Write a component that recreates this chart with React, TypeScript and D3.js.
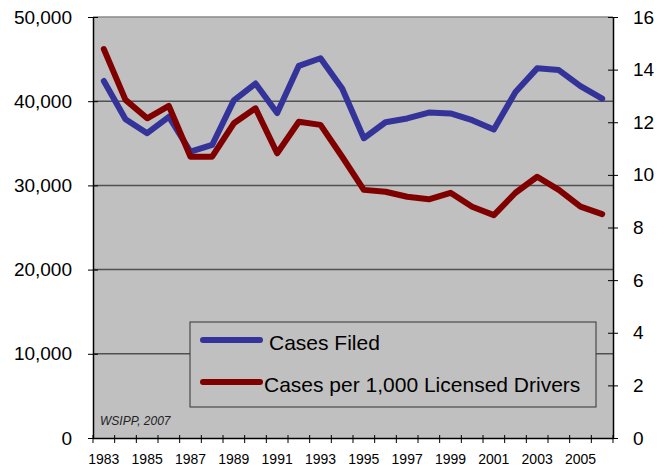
import React, { useEffect, useRef } from 'react';
import * as d3 from 'd3';

const years = d3.range(1983, 2007).map(String);
const casesFiled = [42400, 37850, 36200, 38150, 34000, 34800, 40100, 42100, 38600, 44200, 45100, 41500,
  35600, 37500, 37950, 38650, 38550, 37750, 36650, 41100, 43900, 43700, 41800, 40300];
const casesPerDriver = [14.78, 12.85, 12.15, 12.62, 10.69, 10.69, 11.96, 12.53, 10.82, 12.02, 11.9, 10.69,
  9.43, 9.36, 9.17, 9.07, 9.32, 8.79, 8.47, 9.32, 9.93, 9.43, 8.79, 8.51];
const leftTicks = [0, 10000, 20000, 30000, 40000, 50000];
const rightTicks = [0, 2, 4, 6, 8, 10, 12, 14, 16];
const legendItems = ['Cases Filed', 'Cases per 1,000 Licensed Drivers'];
const colors = ['#333399', '#800000'];

function drawChart(node: SVGSVGElement) {
  const W = 667, H = 468;
  const margin = { top: 17, right: 54, bottom: 30, left: 93 };
  const svg = d3.select(node).attr('width', W).attr('height', H);
  svg.selectAll('*').remove();
  const font = 'Arial, "Liberation Sans", sans-serif';

  const x = d3.scaleBand().domain(years).range([margin.left, W - margin.right]);
  const yL = d3.scaleLinear().domain([0, 50000]).range([H - margin.bottom, margin.top]);
  const yR = d3.scaleLinear().domain([0, 16]).range([H - margin.bottom, margin.top]);
  const x0 = margin.left, x1 = W - margin.right;

  svg.append('rect').attr('x', x0).attr('y', margin.top).attr('width', x1 - x0)
    .attr('height', yL(0) - margin.top).attr('fill', '#c0c0c0');

  // gridlines
  svg.append('g').selectAll('line').data(leftTicks.slice(1)).enter().append('line')
    .attr('x1', x0).attr('x2', x1).attr('y1', d => yL(d)).attr('y2', d => yL(d))
    .attr('stroke', d => (d === 50000 ? '#8a8a8a' : '#505050')).attr('stroke-width', 1.5);

  // left axis
  const gl = svg.append('g').attr('transform', `translate(${x0},0)`)
    .call(d3.axisLeft(yL).tickValues(leftTicks).tickFormat(d3.format(',')).tickSizeInner(5).tickSizeOuter(0).tickPadding(16));
  gl.select('.domain').attr('stroke', '#000').attr('stroke-width', 1.5);
  gl.selectAll('.tick line').attr('x2', 5).attr('x1', -5);
  gl.selectAll('text').attr('font-size', 19).attr('font-family', font).attr('fill', '#000');

  // right axis
  const gr = svg.append('g').attr('transform', `translate(${x1},0)`)
    .call(d3.axisRight(yR).tickValues(rightTicks).tickSizeInner(5).tickSizeOuter(0).tickPadding(15));
  gr.select('.domain').attr('stroke', '#000').attr('stroke-width', 1.5);
  gr.selectAll('.tick line').attr('x1', -5);
  gr.selectAll('text').attr('font-size', 19).attr('font-family', font).attr('fill', '#000');

  // bottom axis
  const gb = svg.append('g').attr('transform', `translate(0,${yL(0)})`)
    .call(d3.axisBottom(x).tickValues(years.filter((_, i) => i % 2 === 0)).tickSize(0).tickPadding(16));
  gb.select('.domain').attr('stroke', '#000').attr('stroke-width', 1.5);
  gb.selectAll('text').attr('font-size', 14).attr('font-family', font).attr('fill', '#000');
  gb.selectAll('line.cat').data(years.concat(['end'])).enter().append('line').attr('class', 'cat')
    .attr('x1', (d, i) => x0 + i * x.step()).attr('x2', (d, i) => x0 + i * x.step())
    .attr('y1', -3).attr('y2', 5).attr('stroke', '#000').attr('stroke-width', 1);

  // lines
  const lineL = d3.line<number>().x((_, i) => (x(years[i]) as number) + x.bandwidth() / 2).y(d => yL(d));
  const lineR = d3.line<number>().x((_, i) => (x(years[i]) as number) + x.bandwidth() / 2).y(d => yR(d));
  svg.append('path').datum(casesFiled).attr('d', lineL).attr('fill', 'none')
    .attr('stroke', colors[0]).attr('stroke-width', 6).attr('stroke-linejoin', 'round').attr('stroke-linecap', 'round');
  svg.append('path').datum(casesPerDriver).attr('d', lineR).attr('fill', 'none')
    .attr('stroke', colors[1]).attr('stroke-width', 6).attr('stroke-linejoin', 'round').attr('stroke-linecap', 'round');

  // legend
  const lg = svg.append('g');
  lg.append('rect').attr('x', 190).attr('y', 322).attr('width', 406).attr('height', 85)
    .attr('fill', '#c0c0c0').attr('stroke', '#333').attr('stroke-width', 1);
  const rowsY = [340, 382];
  const textX = [269, 264];
  legendItems.forEach((label, i) => {
    lg.append('line').attr('x1', 203).attr('x2', 260).attr('y1', rowsY[i]).attr('y2', rowsY[i])
      .attr('stroke', colors[i]).attr('stroke-width', 6).attr('stroke-linecap', 'round');
    lg.append('text').attr('x', textX[i]).attr('y', rowsY[i] + 10).attr('font-size', 21)
      .attr('font-family', font).attr('fill', '#000').text(label);
  });

  svg.append('text').attr('x', 100).attr('y', 425).attr('font-size', 12).attr('font-style', 'italic')
    .attr('font-family', font).attr('fill', '#222').text('WSIPP, 2007');
}

export default function App() {
  const ref = useRef<SVGSVGElement>(null);
  useEffect(() => {
    if (ref.current) drawChart(ref.current);
  }, []);
  return (
    <div style={{ position: 'absolute', left: 0, top: 0 }}>
      <svg ref={ref} style={{ display: 'block' }}></svg>
    </div>
  );
}
